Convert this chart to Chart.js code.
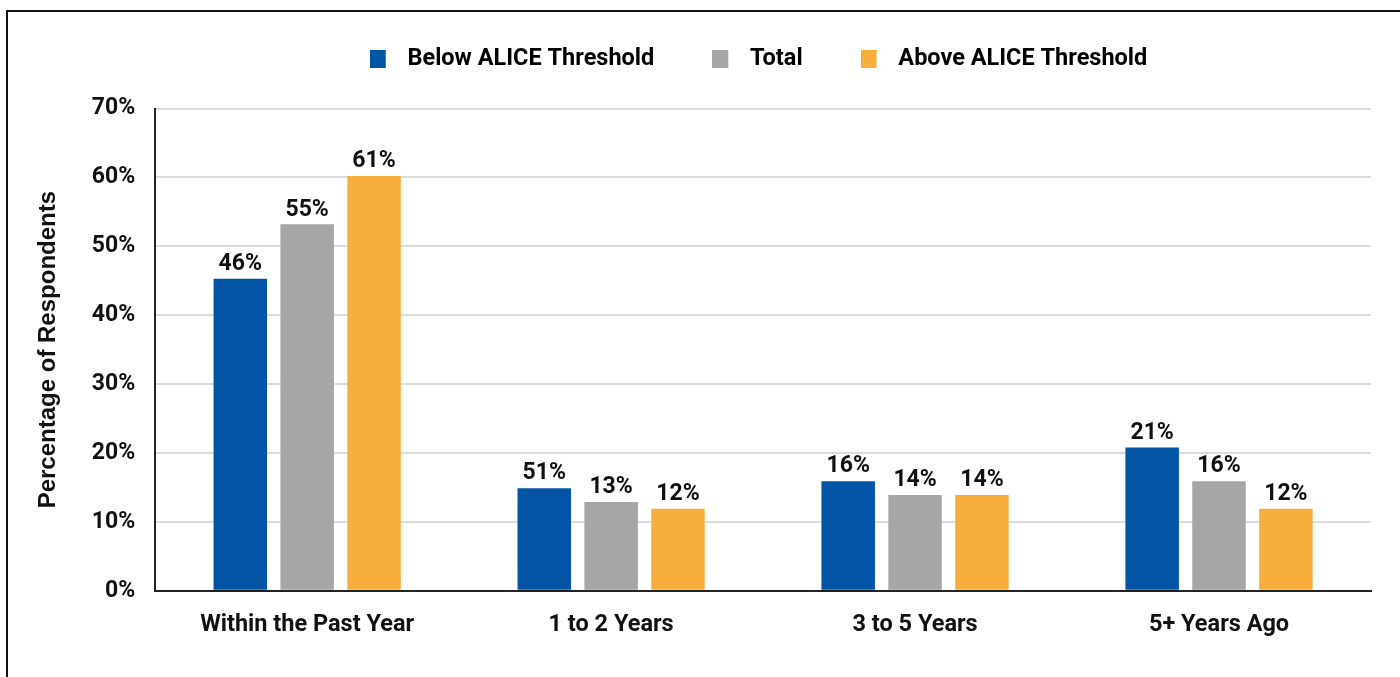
<!DOCTYPE html>
<html>
<head>
<meta charset="utf-8">
<script src="https://cdn.jsdelivr.net/npm/chart.js@4/dist/chart.umd.min.js"></script>
<style>
  html, body { margin: 0; padding: 0; background: #fff; overflow: hidden; }
  #wrap { position: relative; width: 1400px; height: 677px; }
  #frame { position: absolute; left: 6px; top: 10px; width: 1500px; height: 900px; border: 2px solid #111; box-sizing: border-box; pointer-events: none; }
  canvas { position: absolute; left: 0; top: 0; }
</style>
</head>
<body>
<div id="wrap">
  <canvas id="grafica" width="1400" height="677"></canvas>
  <div id="frame"></div>
</div>
<script>
const categorias = ['Within the Past Year', '1 to 2 Years', '3 to 5 Years', '5+ Years Ago'];
const series = ['Below ALICE Threshold', 'Total', 'Above ALICE Threshold'];
const colores = ['#0254a5', '#a6a6a6', '#f8ae3d'];

// bar heights
const debajo = [45.3, 14.9, 15.9, 20.8];
const total = [53.2, 12.9, 13.9, 15.9];
const encima = [60.2, 11.9, 13.9, 11.9];

// printed labels (kept as shown, even where they disagree with bar heights)
const etiquetasDebajo = ['46%', '51%', '16%', '21%'];
const etiquetasTotal = ['55%', '13%', '14%', '16%'];
const etiquetasEncima = ['61%', '12%', '14%', '12%'];

const ticksY = [0, 10, 20, 30, 40, 50, 60, 70];

const fuente = 'Roboto';
Chart.defaults.font.family = fuente;
Chart.defaults.color = '#111';

// legend swatch: coloured block plus a little blank space after it
const muestra = color => {
    const c = document.createElement('canvas');
    c.width = 26; c.height = 18;
    const ctx = c.getContext('2d');
    ctx.fillStyle = color;
    ctx.fillRect(0, 0, 16, 18);
    return c;
};

const etiquetas = [etiquetasDebajo, etiquetasTotal, etiquetasEncima];

const pluginEtiquetas = {
    id: 'etiquetas',
    afterDatasetsDraw(chart) {
        const ctx = chart.ctx;
        ctx.save();
        ctx.font = `bold 23px ${fuente}`;
        ctx.fillStyle = '#111';
        ctx.textAlign = 'center';
        ctx.textBaseline = 'bottom';
        chart.data.datasets.forEach((ds, i) => {
            chart.getDatasetMeta(i).data.forEach((bar, j) => {
                ctx.fillText(etiquetas[i][j], bar.x, bar.y - 3);
            });
        });
        ctx.restore();
    }
};

// move the legend so it sits centred over the plot like the original
const pluginLeyenda = {
    id: 'moverLeyenda',
    afterLayout(chart) {
        chart.legend.left += 112;
        chart.legend.top -= 28;
    }
};

new Chart(document.getElementById('grafica'), {
    type: 'bar',
    data: {
        labels: categorias,
        datasets: [
            { label: series[0], data: debajo, backgroundColor: colores[0] },
            { label: series[1], data: total, backgroundColor: colores[1] },
            { label: series[2], data: encima, backgroundColor: colores[2] }
        ]
    },
    options: {
        responsive: false,
        animation: false,
        devicePixelRatio: 1,
        categoryPercentage: 0.66,
        barPercentage: 0.8,
        layout: { padding: { left: 34, right: 29, top: 17, bottom: 26 } },
        plugins: {
            tooltip: { enabled: false },
            legend: {
                position: 'top',
                labels: {
                    usePointStyle: true,
                    pointStyleWidth: 26,
                    padding: 58,
                    font: { size: 23.5, weight: 'bold' },
                    color: '#111',
                    generateLabels: chart => chart.data.datasets.map((ds, i) => ({
                        text: ds.label,
                        pointStyle: muestra(colores[i]),
                        fillStyle: colores[i],
                        strokeStyle: colores[i],
                        lineWidth: 0,
                        hidden: false,
                        datasetIndex: i
                    }))
                }
            }
        },
        scales: {
            x: {
                grid: { display: false },
                border: { color: '#222', width: 2 },
                ticks: { font: { size: 23.5, weight: 'bold' }, color: '#111', padding: 12 }
            },
            y: {
                min: 0,
                max: 70,
                afterBuildTicks: axis => { axis.ticks = ticksY.map(v => ({ value: v })); },
                grid: { color: '#dcdcdc', lineWidth: 2, drawTicks: false },
                border: { color: '#222', width: 2 },
                ticks: {
                    font: { size: 23, weight: 'bold' },
                    color: '#111',
                    padding: 20,
                    callback: v => v + '%'
                },
                title: {
                    display: true,
                    text: 'Percentage of Respondents',
                    font: { family: 'Liberation Sans', size: 24, weight: 'bold' },
                    color: '#111',
                    padding: { top: 0, bottom: 9 }
                }
            }
        }
    },
    plugins: [pluginEtiquetas, pluginLeyenda]
});
</script>
</body>
</html>
